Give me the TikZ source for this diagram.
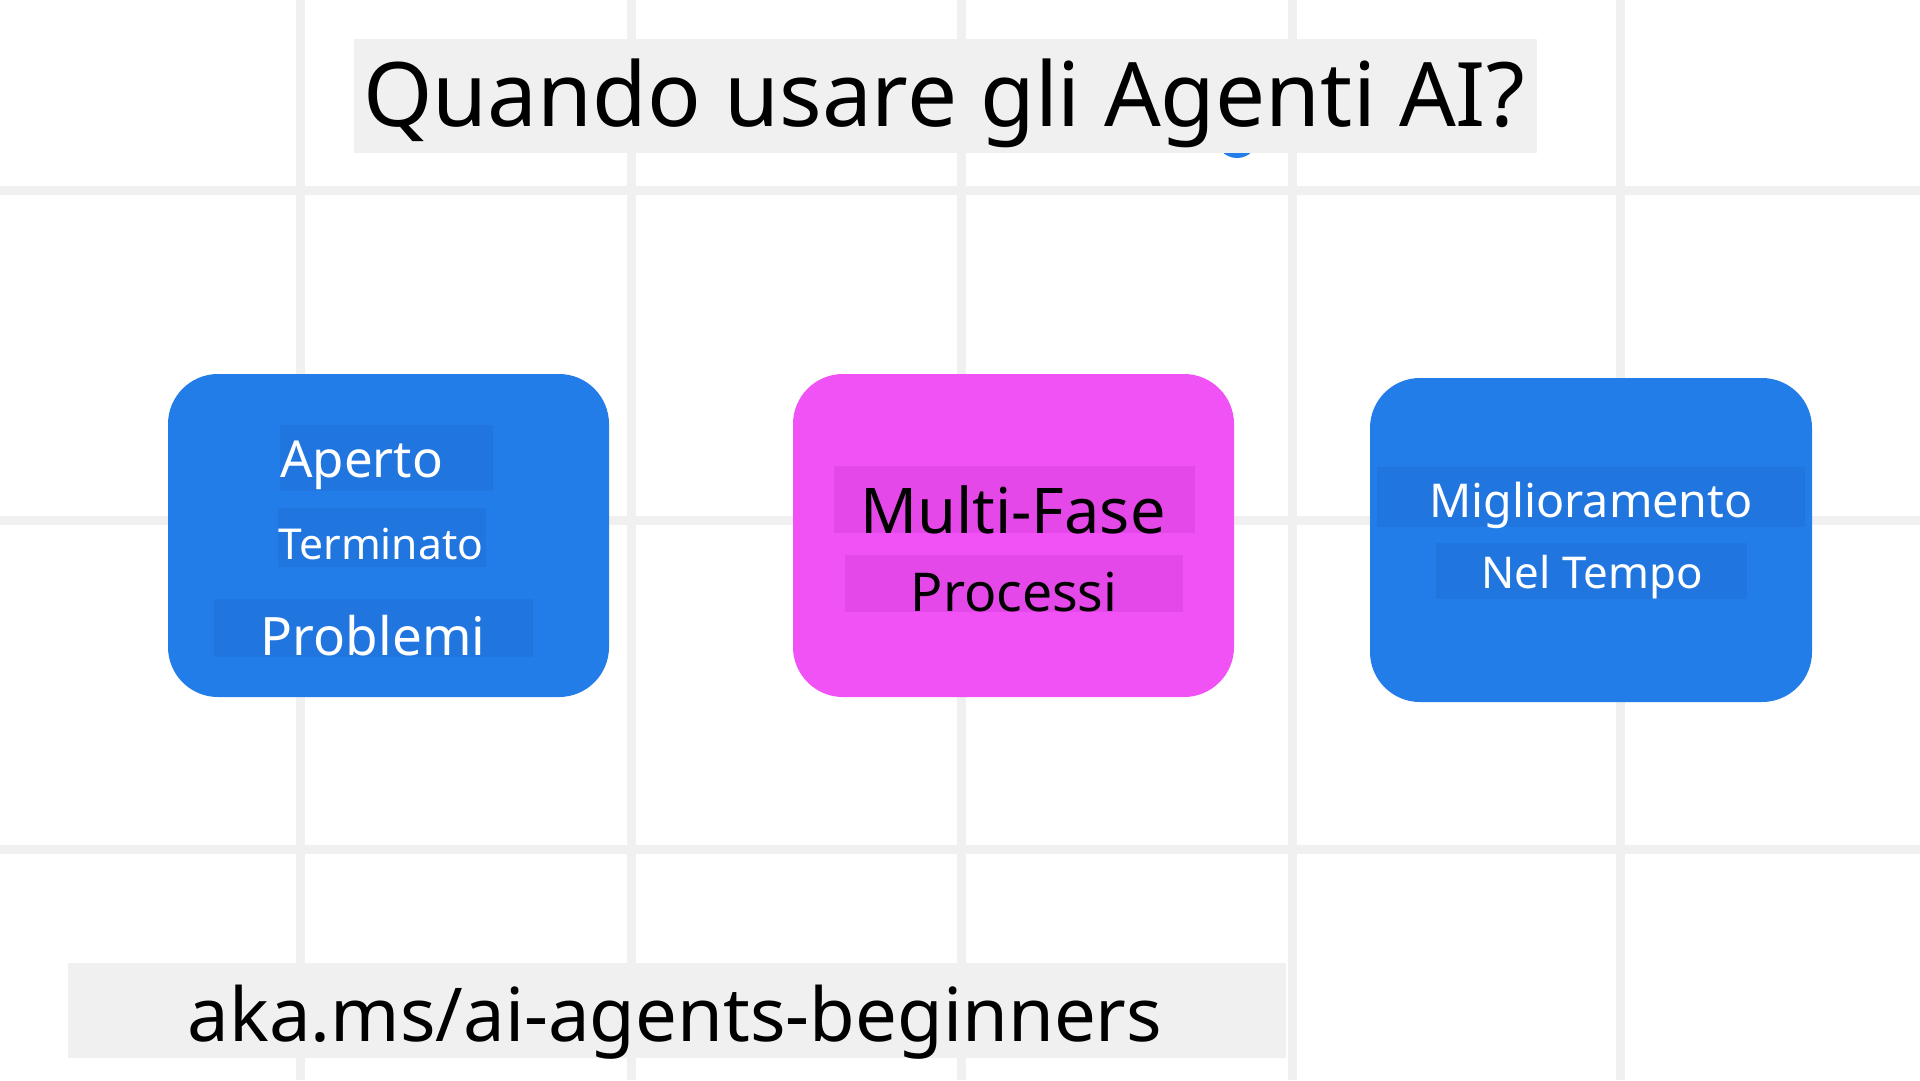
\documentclass[tikz,border=0pt]{standalone}
\usepackage{fontspec}
\setmainfont{Noto Sans}
\usepackage{tikz}
\usepackage{xcolor}
\definecolor{cardblue}{RGB}{35,125,232}
\definecolor{hiliteblue}{RGB}{32,117,223}
\definecolor{cardpink}{RGB}{240,82,245}
\definecolor{hilitepink}{RGB}{228,72,232}
\definecolor{gridgray}{RGB}{240,240,240}

\begin{document}
\begin{tikzpicture}[x=1pt, y=-1pt,
    card/.style={rounded corners=50pt, minimum width=441pt, minimum height=323pt, inner sep=0pt},
    hilite/.style={inner sep=0pt},
    word/.style={inner sep=0pt, anchor=base}]
    \useasboundingbox (0,0) rectangle (1920,1080);
    \fill[white] (0,0) rectangle (1920,1080);

    % Grid
    \foreach \gx in {300,631,961,1292,1620}
        \draw[gridgray, line width=9pt] (\gx,0) -- (\gx,1080);
    \foreach \gy in {190,520,849}
        \draw[gridgray, line width=9pt] (0,\gy) -- (1920,\gy);

    % Title
    \fill[cardblue] (1237,137) circle (21);
    \node[fill=gridgray, minimum width=1183pt, minimum height=114pt, inner sep=0pt] (titlebox) at (945,96) {};
    \node[word, font=\fontsize{89}{100}\selectfont] (title) at (944,126) {Quando usare gli Agenti AI?};

    % Cards
    \node[card, fill=cardblue] (open) at (388.5,535.5) {};
    \node[card, fill=cardpink] (multi) at (1013.5,535.5) {};
    \node[card, fill=cardblue, minimum width=442pt, minimum height=324pt] (learn) at (1591,540) {};

    % Text highlights
    \node[hilite, fill=hiliteblue, minimum width=213pt, minimum height=66pt] (hl1) at (386.5,458) {};
    \node[hilite, fill=hiliteblue, minimum width=208pt, minimum height=59pt] (hl2) at (382,537.5) {};
    \node[hilite, fill=hiliteblue, minimum width=319pt, minimum height=58pt] (hl3) at (373.5,628) {};
    \node[hilite, fill=hilitepink, minimum width=361pt, minimum height=67pt] (hl4) at (1014.5,499.5) {};
    \node[hilite, fill=hilitepink, minimum width=338pt, minimum height=57pt] (hl5) at (1014,583.5) {};
    \node[hilite, fill=hiliteblue, minimum width=428pt, minimum height=60pt] (hl6) at (1591,497) {};
    \node[hilite, fill=hiliteblue, minimum width=311pt, minimum height=56pt] (hl7) at (1591.5,571) {};

    % Card texts
    \node[word, anchor=base west, white, font=\fontsize{51}{60}\selectfont] (aperto) at (280,477) {Aperto};
    \node[word, white, font=\fontsize{42.6}{50}\selectfont] (terminato) at (381,559) {Terminato};
    \node[word, white, font=\fontsize{53}{62}\selectfont] (problemi) at (373,655) {Problemi};
    \node[word, font=\fontsize{63}{74}\selectfont] (fase) at (1013,533) {Multi-Fase};
    \node[word, font=\fontsize{53.5}{62}\selectfont] (processi) at (1014,611) {Processi};
    \node[word, white, font=\fontsize{46.6}{56}\selectfont] (miglio) at (1591,517) {Miglioramento};
    \node[word, white, font=\fontsize{43.8}{52}\selectfont] (tempo) at (1592,588) {Nel Tempo};

    % Link
    \node[fill=gridgray, minimum width=1218pt, minimum height=95pt, inner sep=0pt] (linkbox) at (677,1010.5) {};
    \node[word, font=\fontsize{74.3}{88}\selectfont] (link) at (675,1041) {aka.ms/ai-agents-beginners};
\end{tikzpicture}
\end{document}
